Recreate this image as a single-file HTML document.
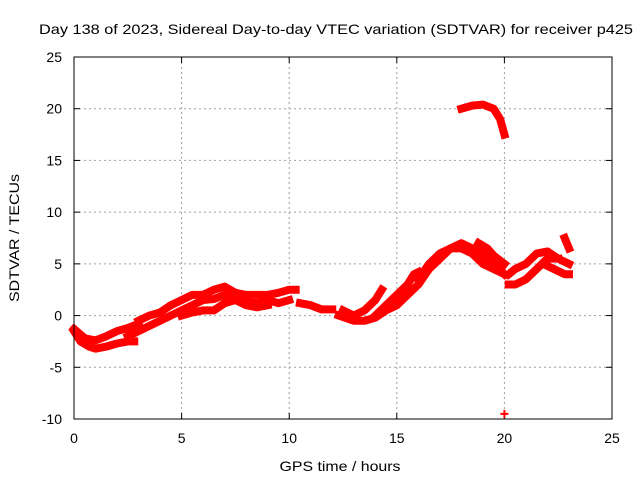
<!DOCTYPE html>
<html><head><meta charset="utf-8"><style>
body{margin:0;background:#fff}
svg text{font-family:"Liberation Sans",sans-serif;font-size:14px;fill:#000}
</style></head><body>
<svg id="chart" width="640" height="480">
<text x="336" y="34" text-anchor="middle" textLength="594" lengthAdjust="spacingAndGlyphs">Day 138 of 2023, Sidereal Day-to-day VTEC variation (SDTVAR) for receiver p425</text>
<text x="340" y="471" text-anchor="middle" textLength="121" lengthAdjust="spacingAndGlyphs">GPS time / hours</text>
<text transform="translate(19,238) rotate(-90)" text-anchor="middle" textLength="128" lengthAdjust="spacingAndGlyphs">SDTVAR / TECUs</text>
<g id="grid"></g>
<g id="ticks"></g>
<g id="marks"></g>
<rect x="74" y="57" width="538" height="362" fill="none" stroke="#000" stroke-width="1"/>
</svg>
<script>
const xTicks=[0,5,10,15,20,25];
const yTicks=[-10,-5,0,5,10,15,20,25];
const trackA=[[0,-1.5],[0.3,-2.5],[0.7,-3],[1,-3.2],[1.5,-3],[2,-2.7],[2.5,-2.5],[2.8,-2.5]];
const trackB=[[0,-1.3],[0.5,-2.2],[1,-2.4],[1.5,-2],[2,-1.5],[2.5,-1.2],[3,-0.8]];
const trackC=[[2.5,-2],[3,-1.5],[3.5,-1],[4,-0.5],[4.5,0],[5,0.5],[5.5,1],[6,1.5],[6.5,1.6],[7,2],[7.5,1.6],[8,1.3],[8.5,1.2],[9,1.5],[9.5,1.2],[10,1.5]];
const trackD=[[3,-0.5],[3.5,0],[4,0.3],[4.5,1],[5,1.5],[5.5,2],[6,2],[6.5,2.5],[7,2.8],[7.5,2.2],[8,2],[8.5,2],[9,2],[9.5,2.2],[10,2.5],[10.3,2.5]];
const trackE=[[5,0],[5.5,0.3],[6,0.5],[6.5,0.5],[7,1.2],[7.5,1.5],[8,1],[8.5,0.8],[9,1]];
const trackF=[[10.5,1.2],[11,1],[11.5,0.6],[12,0.6]];
const trackG=[[12.3,0],[13,-0.5],[13.5,-0.5],[14,-0.2],[14.5,0.5],[15,1],[15.5,2],[16,3],[16.5,4.5],[17,5.5],[17.5,6.5],[18,7],[18.5,6.5],[19,6],[19.5,5],[20,4]];
const trackH=[[12.5,0.5],[13,0],[13.5,0.5],[14,1.5],[14.3,2.5]];
const trackI=[[14,0],[14.5,1],[15,2],[15.5,3],[15.8,4],[16,4.2]];
const trackJ=[[16,3.5],[16.5,5],[17,6],[17.5,6.5],[18,6.5],[18.5,6],[19,5],[19.5,4.5],[20,4]];
const trackK=[[18.8,7],[19.2,6.5],[19.5,5.8],[20,5]];
const trackL=[[20.2,3],[20.5,3],[21,3.5],[21.5,4.5],[22,5.5],[22.5,5.5]];
const trackM=[[20.2,4],[20.5,4.5],[21,5],[21.5,6],[22,6.2],[22.5,5.5],[23,5]];
const trackN=[[21.8,5],[22.3,4.5],[22.8,4],[23,4]];
const trackO=[[22.8,7.5],[23,6.5]];
const trackP=[[18,20],[18.5,20.3],[19,20.4],[19.5,20],[19.8,19],[20,17.5]];
const outliers=[[20,-9.5]];
const tracks=[trackA,trackB,trackC,trackD,trackE,trackF,trackG,trackH,trackI,trackJ,trackK,trackL,trackM,trackN,trackO,trackP];

const X0=74,X1=612,Y0=419,Y1=57,xmin=0,xmax=25,ymin=-10,ymax=25;
const sx=v=>X0+(v-xmin)/(xmax-xmin)*(X1-X0);
const sy=v=>Y0-(v-ymin)/(ymax-ymin)*(Y0-Y1);
const NS="http://www.w3.org/2000/svg";
function mk(tag,attrs,parent){const e=document.createElementNS(NS,tag);for(const k in attrs)e.setAttribute(k,attrs[k]);parent.appendChild(e);return e;}
const grid=document.getElementById('grid'),ticks=document.getElementById('ticks'),marks=document.getElementById('marks');
xTicks.forEach(t=>{const x=sx(t);
 if(t>xmin&&t<xmax){const g=mk('line',{x1:x,x2:x,y1:Y1,y2:Y0,stroke:'#a0a0a0','stroke-dasharray':'2,3'},grid);
 
 }
 mk('line',{x1:x,x2:x,y1:Y0,y2:Y0-6,stroke:'#000'},ticks);mk('line',{x1:x,x2:x,y1:Y1,y2:Y1+6,stroke:'#000'},ticks);
 const l=mk('text',{x:x,y:Y0+24,'text-anchor':'middle'},ticks);l.textContent=t;
 
 });
yTicks.forEach(t=>{const y=sy(t);
 if(t>ymin&&t<ymax){const g=mk('line',{x1:X0,x2:X1,y1:y,y2:y,stroke:'#a0a0a0','stroke-dasharray':'2,3'},grid);
 
 }
 mk('line',{x1:X0,x2:X0+6,y1:y,y2:y,stroke:'#000'},ticks);mk('line',{x1:X1,x2:X1-6,y1:y,y2:y,stroke:'#000'},ticks);
 const l=mk('text',{x:X0-12,y:y+5,'text-anchor':'end'},ticks);l.textContent=t;
 
 });
tracks.forEach((tr,i)=>{
 const p=mk('polyline',{points:tr.map(d=>sx(d[0])+','+sy(d[1])).join(' '),fill:'none',stroke:'#ff0000','stroke-width':8,'stroke-linejoin':'round','stroke-linecap':'square'},marks);
 
 
});
outliers.forEach(d=>{const x=sx(d[0]),y=sy(d[1]);
 const p=mk('path',{d:`M${x-4},${y}H${x+4}M${x},${y-4}V${y+4}`,stroke:'#ff0000','stroke-width':2},marks);
 
 });
</script>
</body></html>
